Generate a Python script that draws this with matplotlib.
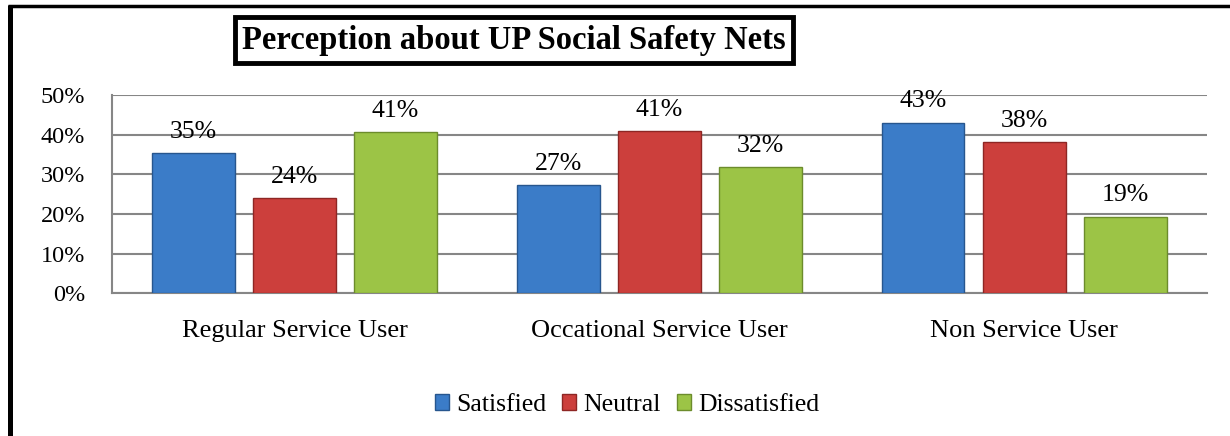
import matplotlib
matplotlib.use("Agg")
import matplotlib.pyplot as plt
import numpy as np
from matplotlib.lines import Line2D

plt.rcParams['font.family'] = ['Liberation Serif', 'DejaVu Serif']

# data (percent)
groups = ['Regular Service User', 'Occational Service User', 'Non Service User']
series = ['Satisfied', 'Neutral', 'Dissatisfied']
satisfied = [35.4, 27.2, 43.0]
neutral = [24.0, 40.8, 38.2]
dissatisfied = [40.7, 31.9, 19.3]
yticks = [0, 10, 20, 30, 40, 50]

colors = ['#3B7CC8', '#CC3F3C', '#9CC446']
edges = ['#27568E', '#8E2624', '#6C8C2C']

fig = plt.figure(figsize=(12.3, 4.36), dpi=100)
ax = fig.add_axes([0.0911, 0.3273, 0.8898, 0.4548])

x = np.arange(len(groups))
step = 0.277
width = 0.227
handles = []
for i, vals in enumerate([satisfied, neutral, dissatisfied]):
    bars = ax.bar(x + (i - 1) * step, vals, width, color=colors[i],
                  edgecolor=edges[i], linewidth=1.0, zorder=3, label=series[i])
    handles.append(bars)
    for b, v in zip(bars, vals):
        ax.annotate(f'{v:.0f}%', (b.get_x() + b.get_width() / 2, v),
                    xytext=(0, 11), textcoords='offset points',
                    ha='center', va='baseline', fontsize=18.5, zorder=4)

ax.set_xlim(-0.5, 2.5)
ax.set_ylim(0, 50)
ax.set_yticks(yticks)
ax.set_yticklabels([f'{t}%' for t in yticks])
ax.tick_params(axis='y', length=0, pad=19.5, labelsize=17.5)
ax.set_xticks(x)
ax.set_xticklabels(groups)
ax.tick_params(axis='x', length=0, pad=19, labelsize=19)

ax.yaxis.grid(True, color='#868686', linewidth=1.5, zorder=0)
ax.set_axisbelow(True)
for s in ['top', 'right']:
    ax.spines[s].set_visible(False)
for s in ['left', 'bottom']:
    ax.spines[s].set_color('#868686')
    ax.spines[s].set_linewidth(1.5)

# title in a black box
fig.text(514 / 1230, 1 - 40 / 436, 'Perception about UP Social Safety Nets',
         ha='center', va='center', fontsize=23.5, fontweight='bold',
         bbox=dict(boxstyle='square,pad=0.22', facecolor='white',
                   edgecolor='black', linewidth=3.5))

fig.legend(handles=handles, labels=series, loc='center',
           bbox_to_anchor=(627 / 1230, 1 - 405 / 436), ncol=3, frameon=False,
           fontsize=18.5, handlelength=0.55, handleheight=0.55,
           handletextpad=0.3, columnspacing=0.6)

# outer frame (only left and top edges show)
fig.add_artist(Line2D([10 / 1230, 10 / 1230], [0, 1 - 5 / 436], transform=fig.transFigure,
                      color='black', linewidth=3.6, solid_capstyle='butt'))
fig.add_artist(Line2D([7.5 / 1230, 1], [1 - 6.5 / 436, 1 - 6.5 / 436], transform=fig.transFigure,
                      color='black', linewidth=2.5, solid_capstyle='butt'))

fig.savefig('out.png', dpi=100, facecolor='white')
